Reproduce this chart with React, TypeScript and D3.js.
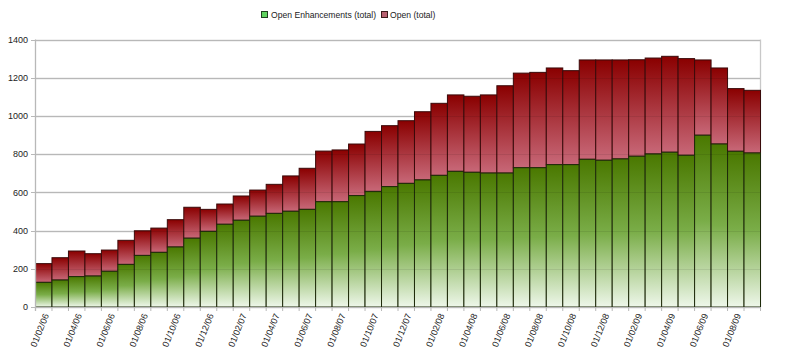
import React from "react";
import * as d3 from "d3";

const months: string[] = [
  "01/02/06","01/03/06","01/04/06","01/05/06","01/06/06","01/07/06","01/08/06","01/09/06","01/10/06","01/11/06","01/12/06",
  "01/01/07","01/02/07","01/03/07","01/04/07","01/05/07","01/06/07","01/07/07","01/08/07","01/09/07","01/10/07","01/11/07","01/12/07",
  "01/01/08","01/02/08","01/03/08","01/04/08","01/05/08","01/06/08","01/07/08","01/08/08","01/09/08","01/10/08","01/11/08","01/12/08",
  "01/01/09","01/02/09","01/03/09","01/04/09","01/05/09","01/06/09","01/07/09","01/08/09","01/09/09",
];
const openEnhancements: number[] = [
  129,141,159,162,187,223,270,286,314,360,396,433,454,475,490,501,511,551,551,583,605,630,647,665,689,
  710,705,701,701,729,729,745,745,773,768,775,789,801,810,794,899,853,815,806,
];
const openTotal: number[] = [
  227,258,293,279,298,349,399,413,457,522,511,539,581,612,642,686,726,816,822,853,919,949,975,1022,1066,
  1110,1103,1110,1158,1224,1228,1251,1237,1293,1293,1293,1294,1303,1312,1300,1293,1251,1143,1134,
];
const yTicks: number[] = [0, 200, 400, 600, 800, 1000, 1200, 1400];
const seriesNames: string[] = ["Open Enhancements (total)", "Open (total)"];

const W = 788, H = 355;
const left = 35, right = 760, top = 39.5, bottom = 307;
const FONT = "'Liberation Sans', Arial, sans-serif";

export default function App() {
  const x = d3.scaleBand<string>().domain(months).range([left, right]).padding(0);
  const y = d3.scaleLinear().domain([0, 1400]).range([bottom, top]);
  const bw = x.bandwidth();

  return (
    <svg width={W} height={H} style={{ position: "absolute", left: 0, top: 0, background: "#fff" }} fontFamily={FONT}>
      <defs>
        <linearGradient id="gGreen" x1="0" y1="0" x2="0" y2="1">
          <stop offset="0" stopColor="#4a7800" />
          <stop offset="0.5" stopColor="#7aad48" />
          <stop offset="1" stopColor="#eef7ea" />
        </linearGradient>
        <linearGradient id="gRed" x1="0" y1="0" x2="0" y2="1">
          <stop offset="0" stopColor="#8a0000" />
          <stop offset="1" stopColor="#c86878" />
        </linearGradient>
      </defs>
      {/* gridlines */}
      {yTicks.map((t) => (
        <line key={"g" + t} x1={left} x2={right} y1={Math.round(y(t)) + 0.5} y2={Math.round(y(t)) + 0.5} stroke="#c8c8c8" strokeWidth={1.3} />
      ))}
      <line x1={right + 0.5} x2={right + 0.5} y1={top} y2={bottom} stroke="#c8c8c8" strokeWidth={1.3} />
      {/* bars */}
      {months.map((m, i) => (
        <g key={m}>
          <rect x={x(m)! + 0.5} y={y(openTotal[i])} width={bw} height={y(openEnhancements[i]) - y(openTotal[i])} fill="url(#gRed)" stroke="#3a0a0a" strokeWidth={1} />
          <rect x={x(m)! + 0.5} y={y(openEnhancements[i])} width={bw} height={bottom - y(openEnhancements[i])} fill="url(#gGreen)" stroke="#1e2a0a" strokeWidth={1} />
        </g>
      ))}
      {/* faint gridlines through bars */}
      {yTicks.slice(1).map((t) => (
        <line key={"o" + t} x1={left} x2={right} y1={Math.round(y(t)) + 0.5} y2={Math.round(y(t)) + 0.5} stroke="#000" strokeOpacity={0.08} strokeWidth={1} />
      ))}
      {/* y axis */}
      <line x1={left + 0.5} x2={left + 0.5} y1={top} y2={bottom + 4} stroke="#b8b8b8" strokeWidth={1.3} />
      {yTicks.map((t) => (
        <g key={"t" + t}>
          <line x1={left - 4} x2={left} y1={Math.round(y(t)) + 0.5} y2={Math.round(y(t)) + 0.5} stroke="#b8b8b8" />
          <text x={left - 7} y={y(t)} dy="0.35em" textAnchor="end" fontSize={9} fill="#222">{t}</text>
        </g>
      ))}
      {/* x axis */}
      <line x1={left} x2={right} y1={bottom + 0.5} y2={bottom + 0.5} stroke="#b8b8b8" />
      {months.map((m) => (
        <line key={"xt" + m} x1={x(m)! + 0.5} x2={x(m)! + 0.5} y1={bottom} y2={bottom + 4} stroke="#b8b8b8" />
      ))}
      <line x1={right + 0.5} x2={right + 0.5} y1={bottom} y2={bottom + 4} stroke="#b8b8b8" />
      {months.map((m, i) =>
        i % 2 === 0 ? (
          <text key={"xl" + m} transform={`translate(${x(m)! + bw / 2 + 3},${bottom + 7}) rotate(-68)`} textAnchor="end" dy="0.35em" fontSize={9} fill="#222">
            {m}
          </text>
        ) : null
      )}
      {/* legend */}
      <rect x={261.5} y={11.5} width={6} height={6} fill="#5fd35f" stroke="#1f3f1f" />
      <text x={271} y={15} dy="0.35em" fontSize={8.6} fill="#222">{seriesNames[0]}</text>
      <rect x={381.5} y={11.5} width={6} height={6} fill="#b86070" stroke="#3a1a1a" />
      <text x={390} y={15} dy="0.35em" fontSize={8.6} fill="#222">{seriesNames[1]}</text>
    </svg>
  );
}
